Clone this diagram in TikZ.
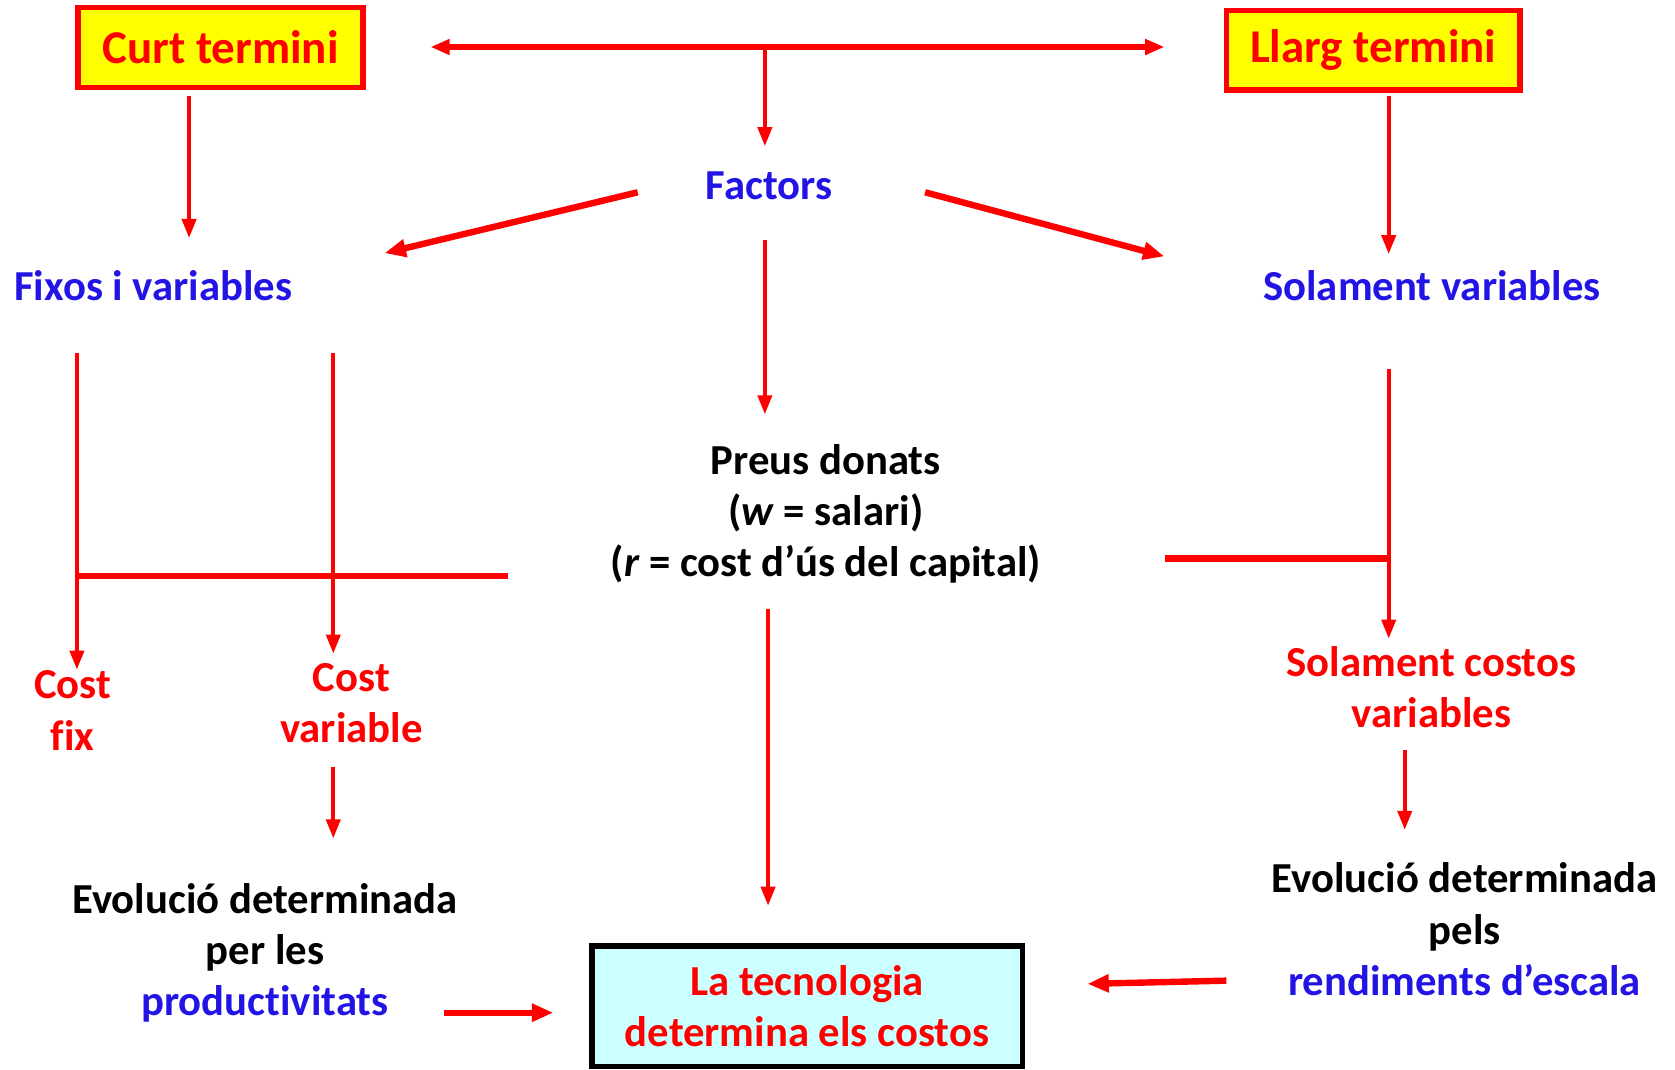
\documentclass[tikz,border=0pt]{standalone}
\usepackage{fontspec}
\setmainfont{Carlito}[Ligatures=NoCommon]
\usetikzlibrary{arrows.meta}
\definecolor{myred}{RGB}{255,0,0}
\definecolor{myblue}{RGB}{35,20,230}
\definecolor{mycyan}{RGB}{204,255,255}
\definecolor{myyellow}{RGB}{255,255,0}
\begin{document}
\begin{tikzpicture}[x=0.5pt,y=-0.5pt,
  txt/.style={font=\fontsize{20}{24}\selectfont\bfseries, align=center, inner sep=0pt},
  bigtxt/.style={font=\fontsize{22}{26}\selectfont\bfseries, align=center, inner sep=0pt, text=myred},
  termbox/.style={bigtxt, draw=myred, fill=myyellow, line width=2.6pt},
  thin/.style={draw=myred, line width=2pt},
  thick/.style={draw=myred, line width=3pt},
  arr/.style={thin, -{Triangle[length=9pt,width=6.5pt]}},
  tharr/.style={thick, -{Triangle[length=10pt,width=8pt]}},
  dbl/.style={draw=myred, line width=2.5pt, {Triangle[length=9pt,width=7pt]}-{Triangle[length=9pt,width=7pt]}}
]
\useasboundingbox (0,0) rectangle (1568,1001);

% boxes
\node[termbox, minimum width=133.5pt, minimum height=37.5pt] (curt) at (206.5,44.5) {Curt termini};
\node[termbox, minimum width=137.5pt, minimum height=37pt] (llarg) at (1285.5,47) {Llarg termini};
\node[txt, text=myred, draw=black, fill=mycyan, line width=2.6pt, minimum width=201.5pt, minimum height=56.5pt] (tec) at (755.5,942) {La tecnologia\\determina els costos};

% text nodes
\node[txt, text=myblue] (factors) at (720,174) {Factors};
\node[txt, text=myblue, anchor=west] (fixos) at (13,267) {Fixos i variables};
\node[txt, text=myblue] (solvar) at (1340.5,267) {Solament variables};
\node[txt] (preus) at (773,481) {Preus donats\\(\textit{w} = salari)\\(\textit{r} = cost d’ús del capital)};
\node[txt, text=myred] (costfix) at (68,665) {Cost\\fix};
\node[txt, text=myred] (costvar) at (329,658) {Cost\\variable};
\node[txt, text=myred] (solcost) at (1340,643) {Solament costos\\variables};
\node[txt] (evol1) at (248,892) {Evolució determinada\\per les\\{\color{myblue}productivitats}};
\node[txt] (evol2) at (1371,870) {Evolució determinada\\pels\\{\color{myblue}rendiments d’escala}};

% connector end points
\coordinate (topL) at (403,44);
\coordinate (topR) at (1090,44);
\coordinate (topM) at (716,44);
\coordinate (facIn) at (716,137);
\coordinate (facOutL) at (597,180);
\coordinate (fixIn) at (360,237);
\coordinate (facOutR) at (866,180);
\coordinate (solIn) at (1090,240);
\coordinate (curtOut) at (177,90);
\coordinate (curtTo) at (177,223);
\coordinate (llargOut) at (1300,90);
\coordinate (llargTo) at (1300,238);
\coordinate (facOutD) at (716,225);
\coordinate (preusIn) at (716,388);
\coordinate (preusOut) at (719,570);
\coordinate (tecIn) at (719,848);
\coordinate (fixA) at (72,330);
\coordinate (fixB) at (312,330);
\coordinate (jL1) at (72,539);
\coordinate (jL2) at (476,539);
\coordinate (cfIn) at (72,627);
\coordinate (cvIn) at (312,612);
\coordinate (solA) at (1300,345);
\coordinate (jR1) at (1091,523);
\coordinate (jR2) at (1300,523);
\coordinate (scIn) at (1300,598);
\coordinate (cvOut) at (312,718);
\coordinate (ev1In) at (312,785);
\coordinate (scOut) at (1315,702);
\coordinate (ev2In) at (1315,777);
\coordinate (ev1Out) at (416,948);
\coordinate (tecL) at (518,948);
\coordinate (ev2Out) at (1148,918);
\coordinate (tecR) at (1018,921);

% connectors
\draw[dbl] (topL) -- (topR);
\draw[arr] (topM) -- (facIn);
\draw[tharr] (facOutL) -- (fixIn);
\draw[tharr] (facOutR) -- (solIn);
\draw[arr] (curtOut) -- (curtTo);
\draw[arr] (llargOut) -- (llargTo);
\draw[arr] (facOutD) -- (preusIn);
\draw[arr] (preusOut) -- (tecIn);
\draw[thick] (jL1) -- (jL2);
\draw[arr] (fixA) -- (cfIn);
\draw[arr] (fixB) -- (cvIn);
\draw[thick] (jR1) -- (jR2);
\draw[arr] (solA) -- (scIn);
\draw[arr] (cvOut) -- (ev1In);
\draw[arr] (scOut) -- (ev2In);
\draw[tharr] (ev1Out) -- (tecL);
\draw[tharr] (ev2Out) -- (tecR);
\end{tikzpicture}
\end{document}
